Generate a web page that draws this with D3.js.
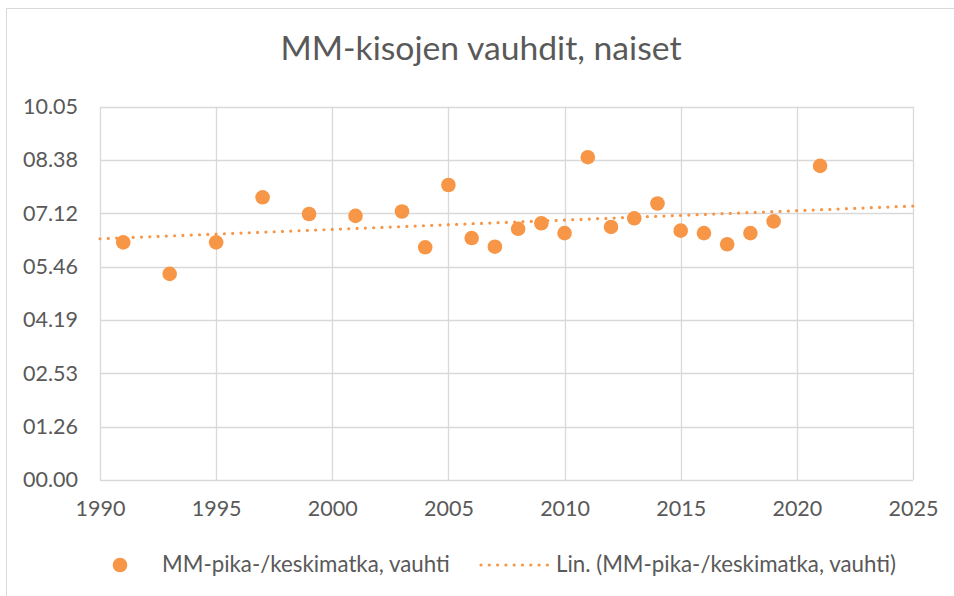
<!DOCTYPE html>
<html>
<head>
<meta charset="utf-8">
<script src="https://cdn.jsdelivr.net/npm/d3@7"></script>
<style>
  html, body { margin: 0; padding: 0; background: #fff; }
  svg { display: block; font-family: Lato, "Open Sans", sans-serif; }
  .tick-label { fill: #595959; font-family: Lato, "Open Sans", sans-serif; font-size: 21.5px; }
  .legend-label { fill: #595959; font-family: Lato, "Open Sans", sans-serif; font-size: 22.3px; }
</style>
</head>
<body>
<div id="chart"></div>
<script>
/* MM-kisojen vauhdit, naiset — scatter with linear trend */

const years = [1991, 1993, 1995, 1997, 1999, 2001, 2003, 2004, 2005, 2006, 2007, 2008,
  2009, 2010, 2011, 2012, 2013, 2014, 2015, 2016, 2017, 2018, 2019, 2021];
// pace in seconds (shown as mm.ss on the axis)
const pace = [385, 334, 385, 458, 431, 428, 435, 377, 478, 392, 378, 407,
  416, 400, 523, 410, 424, 448, 404, 400, 382, 400, 419, 509];

const yTicks = [0, 86.4, 172.8, 259.2, 345.6, 432, 518.4, 604.8];
const yTickLabels = ['00.00', '01.26', '02.53', '04.19', '05.46', '07.12', '08.38', '10.05'];
const xTicks = [1990, 1995, 2000, 2005, 2010, 2015, 2020, 2025];

const seriesName = 'MM-pika-/keskimatka, vauhti';
const trendName = 'Lin. (MM-pika-/keskimatka, vauhti)';
const title = 'MM-kisojen vauhdit, naiset';

const W = 954, H = 596;
const ORANGE = '#f79646';
const GRID = '#d9d9d9';
const TEXT = '#595959';

const svg = d3.select('#chart').append('svg')
  .attr('width', W)
  .attr('height', H);

// chart area border (runs off the right/bottom edge)
svg.append('rect')
  .attr('x', 6.5).attr('y', 8.5)
  .attr('width', W + 10).attr('height', H + 10)
  .attr('fill', 'none')
  .attr('stroke', GRID)
  .attr('stroke-width', 1);

const plot = { left: 100, right: 913, top: 106.7, bottom: 480 };

const x = d3.scaleLinear().domain([1990, 2025]).range([plot.left, plot.right]);
const y = d3.scaleLinear().domain([0, 604.8]).range([plot.bottom, plot.top]);

svg.append('text')
  .attr('x', 481).attr('y', 60)
  .attr('text-anchor', 'middle')
  .attr('fill', TEXT)
  .style('font-size', '33.7px')
  .text(title);

// horizontal grid
svg.append('g')
  .selectAll('line')
  .data(yTicks)
  .join('line')
  .attr('x1', plot.left).attr('x2', plot.right)
  .attr('y1', (d) => Math.round(y(d)) + 0.5)
  .attr('y2', (d) => Math.round(y(d)) + 0.5)
  .attr('stroke', GRID)
  .attr('stroke-width', 1.3);

// vertical grid
svg.append('g')
  .selectAll('line')
  .data(xTicks)
  .join('line')
  .attr('y1', plot.top).attr('y2', plot.bottom)
  .attr('x1', (d) => Math.round(x(d)) + 0.5)
  .attr('x2', (d) => Math.round(x(d)) + 0.5)
  .attr('stroke', GRID)
  .attr('stroke-width', 1.3);

// axes (labels only, lines come from the grid)
const yAxis = d3.axisLeft(y)
  .tickValues(yTicks)
  .tickSize(0)
  .tickPadding(22)
  .tickFormat((d, i) => yTickLabels[i]);

const yG = svg.append('g')
  .attr('transform', `translate(${plot.left},0)`)
  .call(yAxis)
  .attr('font-family', null)
  .attr('font-size', null);
yG.select('.domain').remove();
yG.selectAll('text').attr('class', 'tick-label');

const xAxis = d3.axisBottom(x)
  .tickValues(xTicks)
  .tickSize(0)
  .tickPadding(21)
  .tickFormat(d3.format('d'));

const xG = svg.append('g')
  .attr('transform', `translate(0,${plot.bottom})`)
  .call(xAxis)
  .attr('font-family', null)
  .attr('font-size', null);
xG.select('.domain').remove();
xG.selectAll('text').attr('class', 'tick-label');

// linear trend (least squares)
const n = years.length;
const mx = d3.mean(years);
const my = d3.mean(pace);
let sxy = 0, sxx = 0;
for (let i = 0; i < n; i++) {
  sxy += (years[i] - mx) * (pace[i] - my);
  sxx += (years[i] - mx) ** 2;
}
const slope = sxy / sxx;
const trendAt = (yr) => my + slope * (yr - mx);

svg.append('line')
  .attr('x1', x(1990)).attr('y1', y(trendAt(1990)))
  .attr('x2', x(2025)).attr('y2', y(trendAt(2025)))
  .attr('stroke', ORANGE)
  .attr('stroke-width', 3.2)
  .attr('stroke-linecap', 'round')
  .attr('stroke-dasharray', '0 8.3');

// points
svg.append('g')
  .selectAll('circle')
  .data(years.map((yr, i) => ({ yr, v: pace[i] })))
  .join('circle')
  .attr('cx', (d) => x(d.yr))
  .attr('cy', (d) => y(d.v))
  .attr('r', 7.3)
  .attr('fill', ORANGE);

// legend
const lg = svg.append('g');
lg.append('circle')
  .attr('cx', 120).attr('cy', 565)
  .attr('r', 7.3)
  .attr('fill', ORANGE);
lg.append('text')
  .attr('x', 162).attr('y', 572)
  .attr('class', 'legend-label')
  .text(seriesName);
lg.append('line')
  .attr('x1', 481).attr('x2', 548)
  .attr('y1', 565).attr('y2', 565)
  .attr('stroke', ORANGE)
  .attr('stroke-width', 3.2)
  .attr('stroke-linecap', 'round')
  .attr('stroke-dasharray', '0 8.3');
lg.append('text')
  .attr('x', 556).attr('y', 572)
  .attr('class', 'legend-label')
  .text(trendName);
</script>
</body>
</html>
